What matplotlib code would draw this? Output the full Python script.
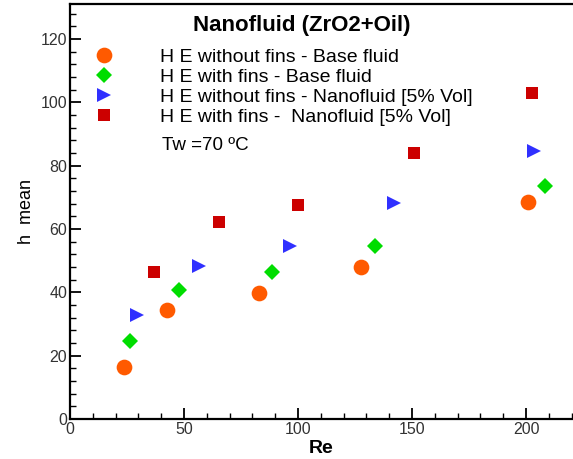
import matplotlib
matplotlib.use("Agg")
import matplotlib.pyplot as plt
from matplotlib.ticker import MultipleLocator

plt.rcParams['font.family'] = ['Liberation Sans', 'DejaVu Sans']

# Mean heat transfer coefficient vs Reynolds number
re_plain_base = [23.8, 42.4, 82.7, 127.5, 200.7]
h_plain_base = [16.5, 34.4, 39.9, 48.0, 68.6]

re_fins_base = [26.3, 47.9, 88.4, 133.8, 208.3]
h_fins_base = [24.5, 40.8, 46.4, 54.7, 73.4]

re_plain_nano = [29.5, 56.7, 96.5, 142.2, 203.5]
h_plain_nano = [32.8, 48.3, 54.7, 68.3, 84.7]

re_fins_nano = [36.8, 65.4, 100.0, 151.0, 202.5]
h_fins_nano = [46.5, 62.1, 67.6, 84.0, 102.9]

labels = [
    "H E without fins - Base fluid",
    "H E with fins - Base fluid",
    "H E without fins - Nanofluid [5% Vol]",
    "H E with fins -  Nanofluid [5% Vol]",
]

W, H = 573, 459
fig = plt.figure(figsize=(W / 100, H / 100), dpi=100)
ax = fig.add_axes([70 / W, 1 - 419 / H, (W - 70) / W, (419 - 4) / H])

ax.plot(re_plain_base, h_plain_base, 'o', color='#ff5a00', ms=11.3, mew=0, label=labels[0])
ax.plot(re_fins_base, h_fins_base, 'D', color='#00dd00', ms=8.0, mew=0, label=labels[1])
ax.plot(re_plain_nano, h_plain_nano, '>', color='#3030ff', ms=9.5, mew=0, label=labels[2])
ax.plot(re_fins_nano, h_fins_nano, 's', color='#cc0000', ms=8.4, mew=0, label=labels[3])

ax.set_xlim(0, (W - 70) / 2.28)
ax.set_ylim(0, 131)
ax.xaxis.set_major_locator(MultipleLocator(50))
ax.xaxis.set_minor_locator(MultipleLocator(10))
ax.yaxis.set_major_locator(MultipleLocator(20))
ax.yaxis.set_minor_locator(MultipleLocator(4))

ax.spines['right'].set_visible(False)
for s in ('left', 'bottom', 'top'):
    ax.spines[s].set_linewidth(1.6)
ax.tick_params(which='both', direction='in', top=False, right=False,
               width=1.3, labelsize=11.5, labelcolor='#333333', pad=2)
ax.tick_params(which='major', length=8)
ax.tick_params(which='minor', length=4.5, width=1.0)

ax.set_xlabel("Re", fontsize=14, fontweight='bold', labelpad=2)
ax.set_ylabel("h  mean", fontsize=13, labelpad=4)

fig.text(302 / W, 1 - 25 / H, "Nanofluid (ZrO2+Oil)", fontsize=16,
         fontweight='bold', ha='center', va='center')
fig.text(162 / W, 1 - 146 / H, "Tw =70 ºC", fontsize=13.5, ha='left', va='center')

ax.legend(loc='upper left', bbox_to_anchor=(84.6 / W, 1 - 48.5 / H),
          bbox_transform=fig.transFigure, frameon=False, fontsize=14,
          handlelength=2.0, handletextpad=1.88, labelspacing=0.125,
          borderpad=0, borderaxespad=0, numpoints=1)

fig.savefig("out.png", dpi=100)
